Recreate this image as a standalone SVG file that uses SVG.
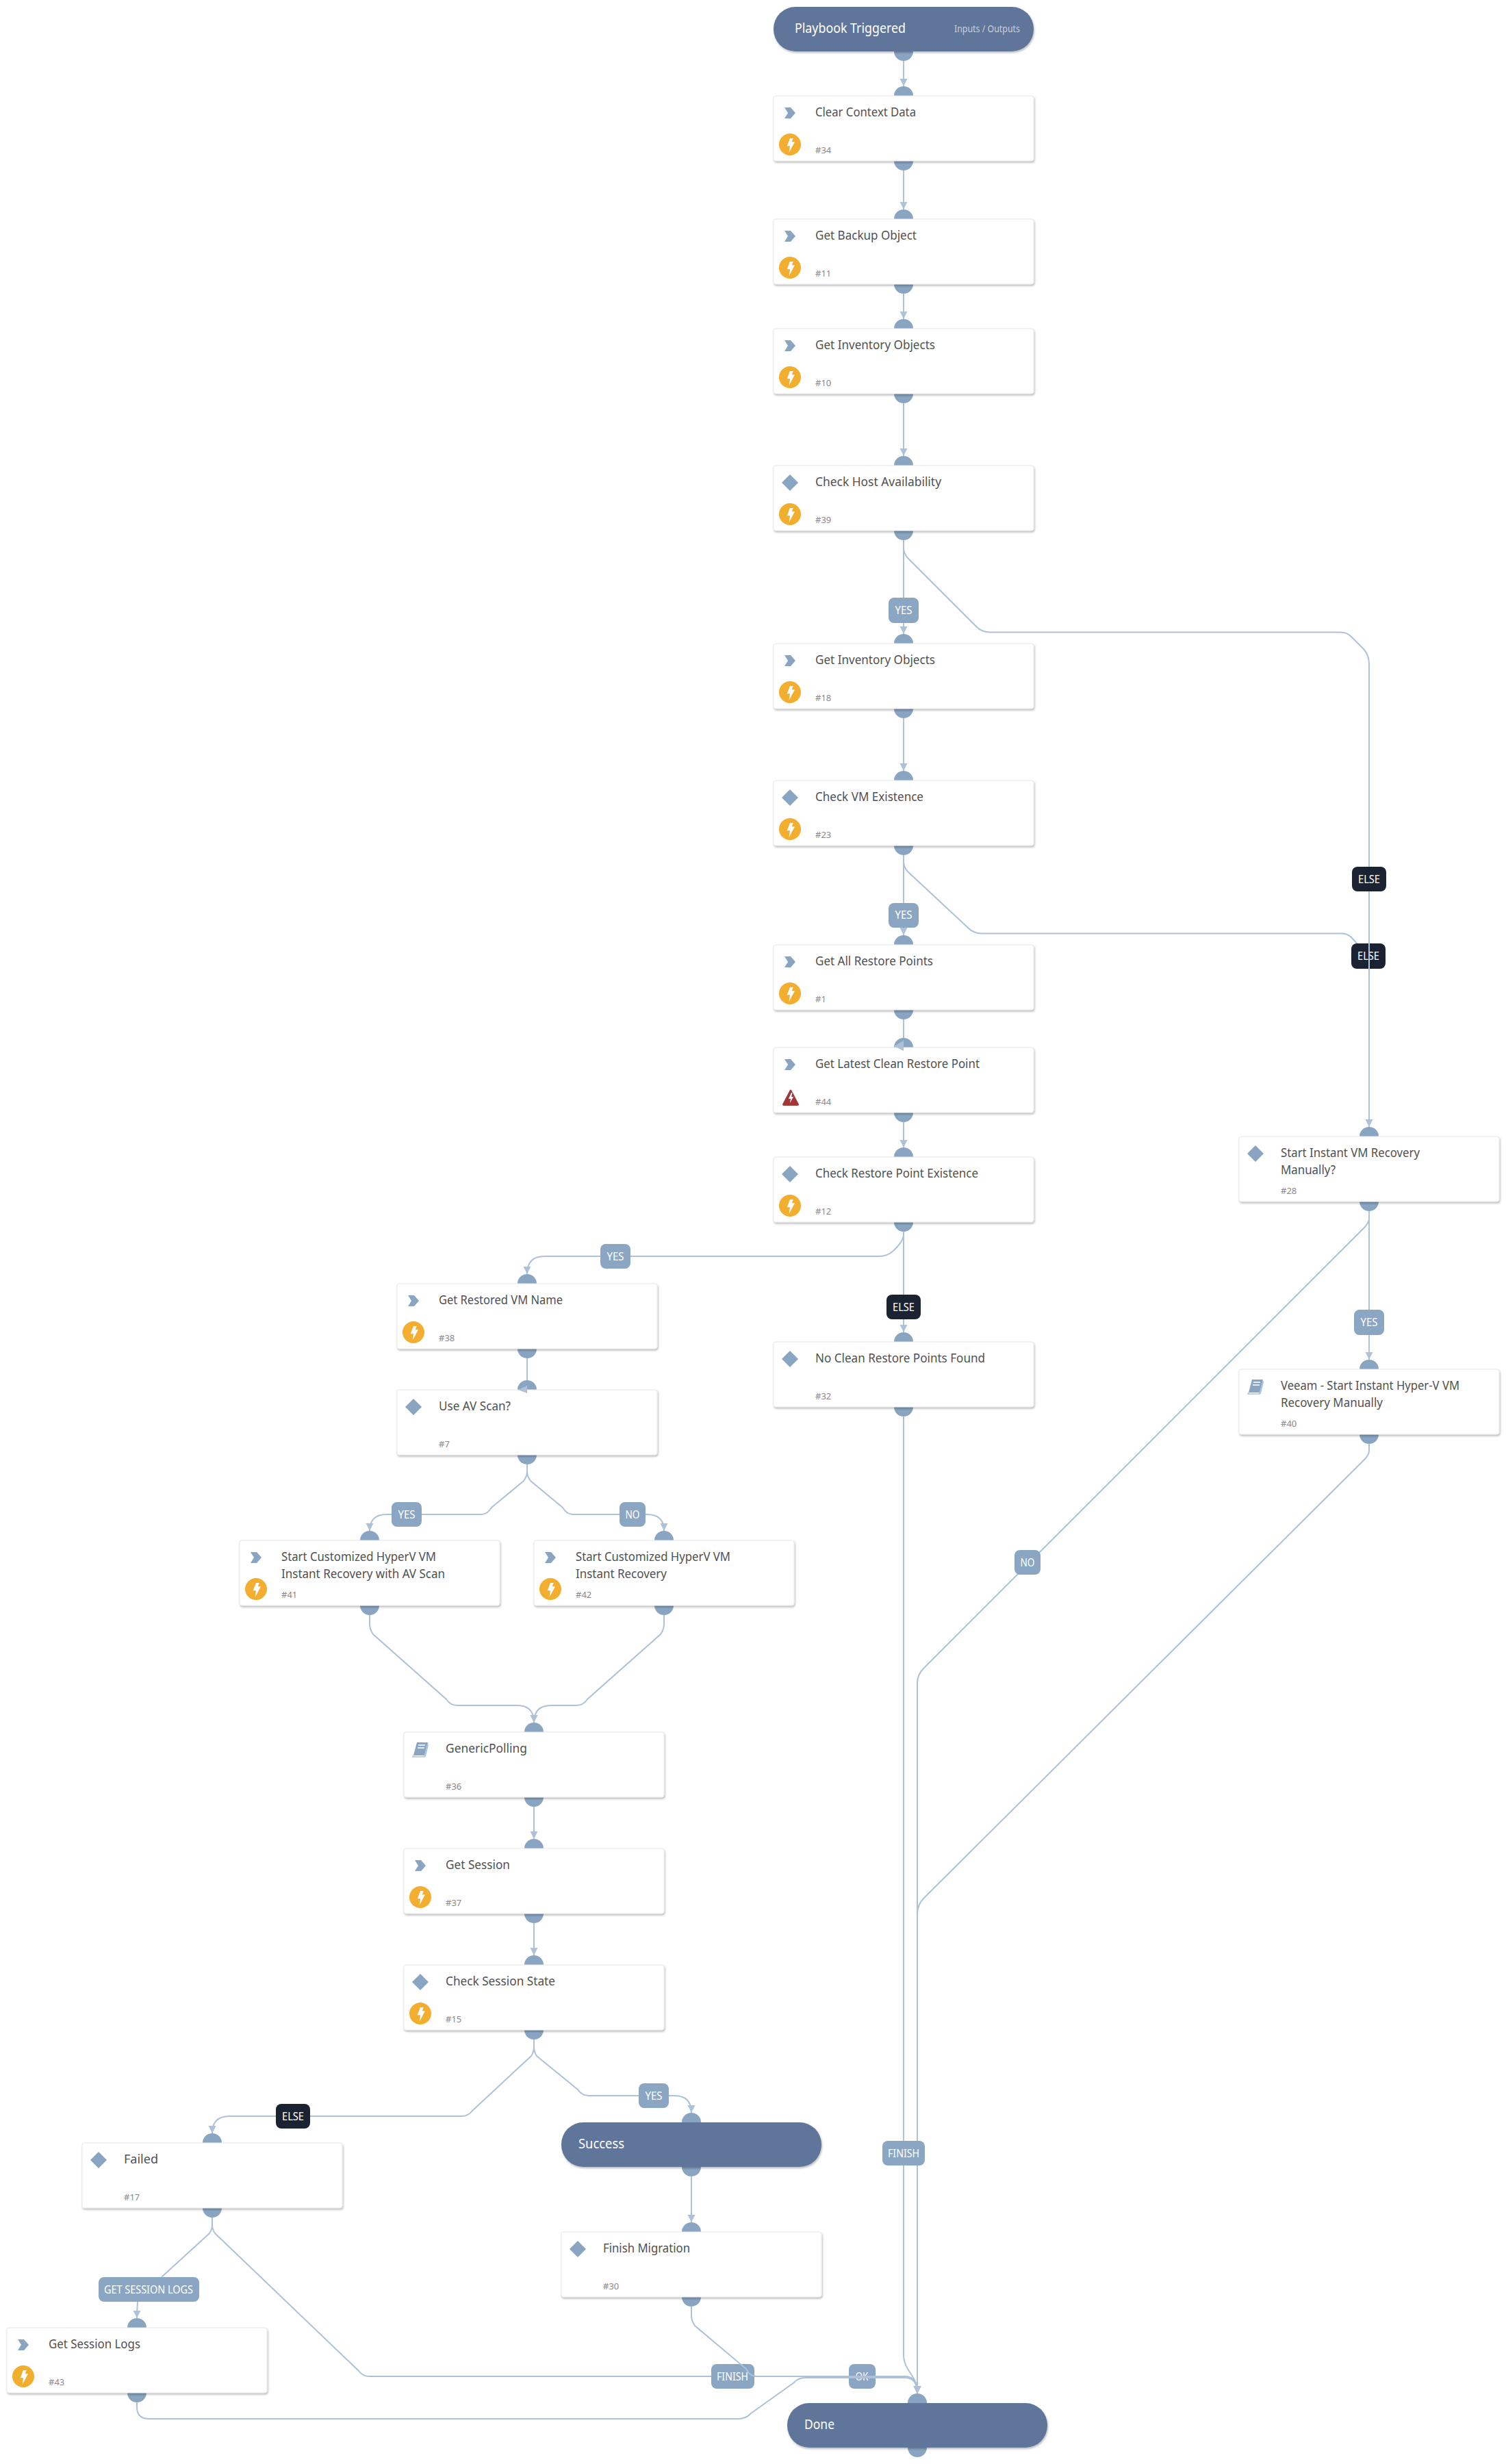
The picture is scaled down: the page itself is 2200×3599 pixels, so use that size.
<svg xmlns="http://www.w3.org/2000/svg" width="2200" height="3599" viewBox="0 0 2200 3599">
<style>
text{font-family:"Noto Sans","Liberation Sans",sans-serif}
.bg{fill:#fff}
.c{fill:none;stroke:#adc2d8;stroke-width:2}
.m{marker-end:url(#ah)}
.port{fill:#8aa5c2}
.card{fill:#fff;stroke:#e8e8e8;stroke-width:1;filter:url(#sh)}
.pill{fill:#5f7499;filter:url(#sh)}
.t{font-size:18px;fill:#505050}
.i{font-size:13px;fill:#888}
.pt{font-size:20px;fill:#fff}
.io{font-size:15px;fill:#c6d0df}
.lb{fill:#8ba6c3}
.le{fill:#1b2333}
.lt{font-size:15.500px;fill:#fff;text-anchor:middle}
.ah{fill:#adc2d8}
</style>
<defs>
<filter id="sh" x="-5%" y="-10%" width="110%" height="125%"><feDropShadow dx="1" dy="2" stdDeviation="1.5" flood-color="#000" flood-opacity="0.28"/></filter>
<marker id="ah" markerUnits="userSpaceOnUse" markerWidth="12" markerHeight="12" refX="11" refY="5.5" orient="auto"><path d="M0 0L11 5.5L0 11Z" class="ah"/></marker>
<path id="chev" d="M16 17h9l7 8-7 8h-9l5-8z" class="port"/>
<path id="dia" d="M24 13L36 25L24 37L12 25Z" class="port"/>
<g id="bolt"><circle cx="24" cy="71" r="16" fill="#f3ae30"/><path d="M24 62L19.700 73.300H24L22.700 83L31 67.300H26.700L28.700 62Z" fill="#fff"/></g>
<g id="warn"><path d="M24 62L13 83Q13 85 15 85H35Q37 85 37 83L26 62Q25 61 24 62Z" fill="#a33636"/><path d="M26 66L22 75H25L24 81L29 72H26L27.500 66Z" fill="#fff"/></g>
<g id="book"><path d="M19 15H35L30 34H14Z" class="port"/><path d="M14 34L13 36H30L35 17V20L31 36" fill="none" stroke="#adc2d8" stroke-width="1.500"/><path d="M21 19H31M20 23H30" stroke="#fff" stroke-width="1.500"/></g>
</defs>
<rect class="bg" width="2200" height="3599"/>

<g id="connectors">
<path class="c m" d="M1320 89V126"/>
<path class="c m" d="M1320 249V306"/>
<path class="c m" d="M1320 429V466"/>
<path class="c m" d="M1320 589V666"/>
<path class="c m" d="M1320 789V926"/>
<rect class="lb" x="1298" y="873" width="44" height="37" rx="8"/><text class="lt" x="1320" y="897" textLength="25" lengthAdjust="spacingAndGlyphs">YES</text>
<path class="c m" d="M1320 1049V1126"/>
<path class="c m" d="M1320 1249V1366"/>
<rect class="lb" x="1298" y="1319" width="44" height="36" rx="8"/><text class="lt" x="1320" y="1342" textLength="25" lengthAdjust="spacingAndGlyphs">YES</text>
<path class="c" d="M1320 1249V1258Q1320 1266 1326 1273L1414 1355Q1422 1363.500 1434 1363.500H1960Q1968 1363.500 1974 1369L1995 1392"/>
<rect class="le" x="1974" y="1378" width="50" height="37" rx="8"/><text class="lt" x="1999" y="1402" textLength="32" lengthAdjust="spacingAndGlyphs">ELSE</text>
<path class="c m" d="M1320 789V800Q1320 808 1326 815L1426 915Q1434 923.500 1446 923.500H1958Q1968 923.500 1974 930L1992 948Q2000 957 2000 970V1646"/>
<rect class="le" x="1975" y="1266" width="50" height="36" rx="8"/><text class="lt" x="2000" y="1290" textLength="32" lengthAdjust="spacingAndGlyphs">ELSE</text>
<path class="c" d="M1320 1489V1520"/>
<path class="c m" d="M1320 1639V1676"/>
<path class="c m" d="M1320 1799V1946"/>
<path class="c m" d="M1320 1799V1805Q1318 1815 1305 1827Q1296 1835 1285 1835H795Q770 1835 770 1861"/>
<rect class="lb" x="877" y="1817" width="44" height="36" rx="8"/><text class="lt" x="899" y="1841" textLength="25" lengthAdjust="spacingAndGlyphs">YES</text>
<rect class="le" x="1295" y="1891" width="50" height="36" rx="8"/><text class="lt" x="1320" y="1915" textLength="32" lengthAdjust="spacingAndGlyphs">ELSE</text>
<path class="c" d="M770 1984V2022"/>
<path class="c m" d="M770 2139V2150Q770 2156 765 2163L718 2202Q712 2212 703 2212H565Q540 2212 540 2236"/>
<rect class="lb" x="572" y="2194" width="44" height="36" rx="8"/><text class="lt" x="594" y="2218" textLength="25" lengthAdjust="spacingAndGlyphs">YES</text>
<path class="c m" d="M770 2139V2150Q770 2156 775 2163L822 2202Q828 2212 837 2212H945Q970 2212 970 2236"/>
<rect class="lb" x="905" y="2194" width="38" height="36" rx="8"/><text class="lt" x="924" y="2218" textLength="21" lengthAdjust="spacingAndGlyphs">NO</text>
<path class="c m" d="M540 2359V2372Q540 2380 545 2387L652 2482Q658 2491 668 2491H755Q780 2491 780 2516"/>
<path class="c m" d="M970 2359V2372Q970 2380 965 2387L858 2482Q852 2491 842 2491H805Q780 2491 780 2516"/>
<path class="c m" d="M780 2639V2686"/>
<path class="c m" d="M780 2809V2856"/>
<path class="c m" d="M780 2979V2990Q780 2997 776 3003L690 3083Q684 3091 674 3091H335Q310 3091 310 3116"/>
<rect class="le" x="403" y="3073" width="50" height="36" rx="8"/><text class="lt" x="428" y="3097" textLength="32" lengthAdjust="spacingAndGlyphs">ELSE</text>
<path class="c m" d="M780 2979V2990Q780 2997 784 3003L844 3052Q850 3061 860 3061H985Q1010 3061 1010 3086"/>
<rect class="lb" x="933" y="3043" width="44" height="36" rx="8"/><text class="lt" x="955" y="3067" textLength="25" lengthAdjust="spacingAndGlyphs">YES</text>
<path class="c m" d="M1010 3179V3246"/>
<path class="c" d="M310 3239V3250Q310 3256 306 3262L236 3326"/>
<rect class="lb" x="144" y="3326" width="147" height="36" rx="8"/><text class="lt" x="217" y="3350" textLength="130" lengthAdjust="spacingAndGlyphs">GET SESSION LOGS</text>
<path class="c m" d="M201 3362Q200 3374 200 3386"/>
<path class="c m" d="M2000 1769V1780Q2000 1785 1994 1792L1350 2436Q1340 2446 1340 2458V3496"/>
<rect class="lb" x="1482" y="2264" width="38" height="36" rx="8"/><text class="lt" x="1501" y="2288" textLength="21" lengthAdjust="spacingAndGlyphs">NO</text>
<path class="c m" d="M2000 2109V2118Q2000 2125 1994 2131L1350 2772Q1340 2782 1340 2795V3496"/>
<path class="c m" d="M2000 1769V1986"/>
<rect class="lb" x="1978" y="1913" width="44" height="37" rx="8"/><text class="lt" x="2000" y="1937" textLength="25" lengthAdjust="spacingAndGlyphs">YES</text>
<path class="c m" d="M1320 2069V3440Q1320 3450 1326 3460L1336 3476Q1340 3484 1340 3496"/>
<rect class="lb" x="1289" y="3127" width="62" height="36" rx="8"/><text class="lt" x="1320" y="3151" textLength="46" lengthAdjust="spacingAndGlyphs">FINISH</text>
<path class="c m" d="M310 3239V3250Q310 3256 314 3262L524 3463Q530 3471 540 3471H1322Q1340 3471 1340 3496"/>
<rect class="lb" x="1240" y="3453" width="39" height="36" rx="8"/><text class="lt" x="1259" y="3477" textLength="19" lengthAdjust="spacingAndGlyphs">OK</text>
<rect class="lb" x="1039" y="3453" width="63" height="36" rx="8"/><text class="lt" x="1070" y="3477" textLength="46" lengthAdjust="spacingAndGlyphs">FINISH</text>
<path class="c m" d="M1010 3369V3382Q1010 3390 1015 3397L1090 3460Q1095 3471 1105 3471H1322Q1340 3471 1340 3496"/>
<path class="c m" d="M200 3509V3516Q200 3533 218 3533H1078Q1090 3533 1097 3525L1160 3480Q1166 3473 1176 3473H1322Q1340 3473 1340 3496"/>
</g>

<g id="trigger" transform="translate(1130,10)"><circle class="port" cx="190" cy="65" r="14"/><rect class="pill" width="380" height="65" rx="32"/><text class="pt" x="31" y="38" textLength="162" lengthAdjust="spacingAndGlyphs">Playbook Triggered</text><text class="io" x="264" y="37" textLength="96" lengthAdjust="spacingAndGlyphs">Inputs / Outputs</text></g>
<g id="n34" transform="translate(1130,140)"><circle class="port" cx="190" r="14"/><circle class="port" cx="190" cy="95" r="14"/><rect class="card" width="380" height="95" rx="3"/><use href="#chev"/><use href="#bolt"/><text class="t" x="61" y="30" textLength="147" lengthAdjust="spacingAndGlyphs">Clear Context Data</text><text class="i" x="61" y="84">#34</text></g>
<g id="n11" transform="translate(1130,320)"><circle class="port" cx="190" r="14"/><circle class="port" cx="190" cy="95" r="14"/><rect class="card" width="380" height="95" rx="3"/><use href="#chev"/><use href="#bolt"/><text class="t" x="61" y="30" textLength="148" lengthAdjust="spacingAndGlyphs">Get Backup Object</text><text class="i" x="61" y="84">#11</text></g>
<g id="n10" transform="translate(1130,480)"><circle class="port" cx="190" r="14"/><circle class="port" cx="190" cy="95" r="14"/><rect class="card" width="380" height="95" rx="3"/><use href="#chev"/><use href="#bolt"/><text class="t" x="61" y="30" textLength="175" lengthAdjust="spacingAndGlyphs">Get Inventory Objects</text><text class="i" x="61" y="84">#10</text></g>
<g id="n39" transform="translate(1130,680)"><circle class="port" cx="190" r="14"/><circle class="port" cx="190" cy="95" r="14"/><rect class="card" width="380" height="95" rx="3"/><use href="#dia"/><use href="#bolt"/><text class="t" x="61" y="30" textLength="184" lengthAdjust="spacingAndGlyphs">Check Host Availability</text><text class="i" x="61" y="84">#39</text></g>
<g id="n18" transform="translate(1130,940)"><circle class="port" cx="190" r="14"/><circle class="port" cx="190" cy="95" r="14"/><rect class="card" width="380" height="95" rx="3"/><use href="#chev"/><use href="#bolt"/><text class="t" x="61" y="30" textLength="175" lengthAdjust="spacingAndGlyphs">Get Inventory Objects</text><text class="i" x="61" y="84">#18</text></g>
<g id="n23" transform="translate(1130,1140)"><circle class="port" cx="190" r="14"/><circle class="port" cx="190" cy="95" r="14"/><rect class="card" width="380" height="95" rx="3"/><use href="#dia"/><use href="#bolt"/><text class="t" x="61" y="30" textLength="158" lengthAdjust="spacingAndGlyphs">Check VM Existence</text><text class="i" x="61" y="84">#23</text></g>
<g id="n1" transform="translate(1130,1380)"><circle class="port" cx="190" r="14"/><circle class="port" cx="190" cy="95" r="14"/><rect class="card" width="380" height="95" rx="3"/><use href="#chev"/><use href="#bolt"/><text class="t" x="61" y="30" textLength="172" lengthAdjust="spacingAndGlyphs">Get All Restore Points</text><text class="i" x="61" y="84">#1</text></g>
<g id="n44" transform="translate(1130,1530)"><circle class="port" cx="190" r="14"/><circle class="port" cx="190" cy="95" r="14"/><rect class="card" width="380" height="95" rx="3"/><use href="#chev"/><use href="#warn"/><text class="t" x="61" y="30" textLength="240" lengthAdjust="spacingAndGlyphs">Get Latest Clean Restore Point</text><text class="i" x="61" y="84">#44</text></g>
<g id="n12" transform="translate(1130,1690)"><circle class="port" cx="190" r="14"/><circle class="port" cx="190" cy="95" r="14"/><rect class="card" width="380" height="95" rx="3"/><use href="#dia"/><use href="#bolt"/><text class="t" x="61" y="30" textLength="238" lengthAdjust="spacingAndGlyphs">Check Restore Point Existence</text><text class="i" x="61" y="84">#12</text></g>
<g id="n32" transform="translate(1130,1960)"><circle class="port" cx="190" r="14"/><circle class="port" cx="190" cy="95" r="14"/><rect class="card" width="380" height="95" rx="3"/><use href="#dia"/><text class="t" x="61" y="30" textLength="248" lengthAdjust="spacingAndGlyphs">No Clean Restore Points Found</text><text class="i" x="61" y="84">#32</text></g>
<g id="n28" transform="translate(1810,1660)"><circle class="port" cx="190" r="14"/><circle class="port" cx="190" cy="95" r="14"/><rect class="card" width="380" height="95" rx="3"/><use href="#dia"/><text class="t" x="61" y="30" textLength="203" lengthAdjust="spacingAndGlyphs">Start Instant VM Recovery</text><text class="t" x="61" y="55" textLength="80" lengthAdjust="spacingAndGlyphs">Manually?</text><text class="i" x="61" y="84">#28</text></g>
<g id="n40" transform="translate(1810,2000)"><circle class="port" cx="190" r="14"/><circle class="port" cx="190" cy="95" r="14"/><rect class="card" width="380" height="95" rx="3"/><use href="#book"/><text class="t" x="61" y="30" textLength="261" lengthAdjust="spacingAndGlyphs">Veeam - Start Instant Hyper-V VM</text><text class="t" x="61" y="55" textLength="149" lengthAdjust="spacingAndGlyphs">Recovery Manually</text><text class="i" x="61" y="84">#40</text></g>
<g id="n38" transform="translate(580,1875)"><circle class="port" cx="190" r="14"/><circle class="port" cx="190" cy="95" r="14"/><rect class="card" width="380" height="95" rx="3"/><use href="#chev"/><use href="#bolt"/><text class="t" x="61" y="30" textLength="181" lengthAdjust="spacingAndGlyphs">Get Restored VM Name</text><text class="i" x="61" y="84">#38</text></g>
<g id="n7" transform="translate(580,2030)"><circle class="port" cx="190" r="14"/><circle class="port" cx="190" cy="95" r="14"/><rect class="card" width="380" height="95" rx="3"/><use href="#dia"/><text class="t" x="61" y="30" textLength="105" lengthAdjust="spacingAndGlyphs">Use AV Scan?</text><text class="i" x="61" y="84">#7</text></g>
<g id="n41" transform="translate(350,2250)"><circle class="port" cx="190" r="14"/><circle class="port" cx="190" cy="95" r="14"/><rect class="card" width="380" height="95" rx="3"/><use href="#chev"/><use href="#bolt"/><text class="t" x="61" y="30" textLength="226" lengthAdjust="spacingAndGlyphs">Start Customized HyperV VM</text><text class="t" x="61" y="55" textLength="239" lengthAdjust="spacingAndGlyphs">Instant Recovery with AV Scan</text><text class="i" x="61" y="84">#41</text></g>
<g id="n42" transform="translate(780,2250)"><circle class="port" cx="190" r="14"/><circle class="port" cx="190" cy="95" r="14"/><rect class="card" width="380" height="95" rx="3"/><use href="#chev"/><use href="#bolt"/><text class="t" x="61" y="30" textLength="226" lengthAdjust="spacingAndGlyphs">Start Customized HyperV VM</text><text class="t" x="61" y="55" textLength="133" lengthAdjust="spacingAndGlyphs">Instant Recovery</text><text class="i" x="61" y="84">#42</text></g>
<g id="n36" transform="translate(590,2530)"><circle class="port" cx="190" r="14"/><circle class="port" cx="190" cy="95" r="14"/><rect class="card" width="380" height="95" rx="3"/><use href="#book"/><text class="t" x="61" y="30" textLength="119" lengthAdjust="spacingAndGlyphs">GenericPolling</text><text class="i" x="61" y="84">#36</text></g>
<g id="n37" transform="translate(590,2700)"><circle class="port" cx="190" r="14"/><circle class="port" cx="190" cy="95" r="14"/><rect class="card" width="380" height="95" rx="3"/><use href="#chev"/><use href="#bolt"/><text class="t" x="61" y="30" textLength="94" lengthAdjust="spacingAndGlyphs">Get Session</text><text class="i" x="61" y="84">#37</text></g>
<g id="n15" transform="translate(590,2870)"><circle class="port" cx="190" r="14"/><circle class="port" cx="190" cy="95" r="14"/><rect class="card" width="380" height="95" rx="3"/><use href="#dia"/><use href="#bolt"/><text class="t" x="61" y="30" textLength="160" lengthAdjust="spacingAndGlyphs">Check Session State</text><text class="i" x="61" y="84">#15</text></g>
<g id="n17" transform="translate(120,3130)"><circle class="port" cx="190" r="14"/><circle class="port" cx="190" cy="95" r="14"/><rect class="card" width="380" height="95" rx="3"/><use href="#dia"/><text class="t" x="61" y="30" textLength="50" lengthAdjust="spacingAndGlyphs">Failed</text><text class="i" x="61" y="84">#17</text></g>
<g id="n43" transform="translate(10,3400)"><circle class="port" cx="190" r="14"/><circle class="port" cx="190" cy="95" r="14"/><rect class="card" width="380" height="95" rx="3"/><use href="#chev"/><use href="#bolt"/><text class="t" x="61" y="30" textLength="134" lengthAdjust="spacingAndGlyphs">Get Session Logs</text><text class="i" x="61" y="84">#43</text></g>
<g id="success" transform="translate(820,3100)"><circle class="port" cx="190" r="14"/><circle class="port" cx="190" cy="65" r="14"/><rect class="pill" width="380" height="65" rx="32"/><text class="pt" x="25" y="38" textLength="67" lengthAdjust="spacingAndGlyphs">Success</text></g>
<g id="n30" transform="translate(820,3260)"><circle class="port" cx="190" r="14"/><circle class="port" cx="190" cy="95" r="14"/><rect class="card" width="380" height="95" rx="3"/><use href="#dia"/><text class="t" x="61" y="30" textLength="127" lengthAdjust="spacingAndGlyphs">Finish Migration</text><text class="i" x="61" y="84">#30</text></g>
<g id="done" transform="translate(1150,3510)"><circle class="port" cx="190" r="14"/><circle class="port" cx="190" cy="65" r="14"/><rect class="pill" width="380" height="65" rx="32"/><text class="pt" x="25" y="38" textLength="44" lengthAdjust="spacingAndGlyphs">Done</text></g>

<g id="connectors-top">
<path class="ah" d="M1320 1520L1306 1528L1320 1535Z"/>
<path class="ah" d="M770 2024L757 2030L770 2035Z"/>
</g>
</svg>
